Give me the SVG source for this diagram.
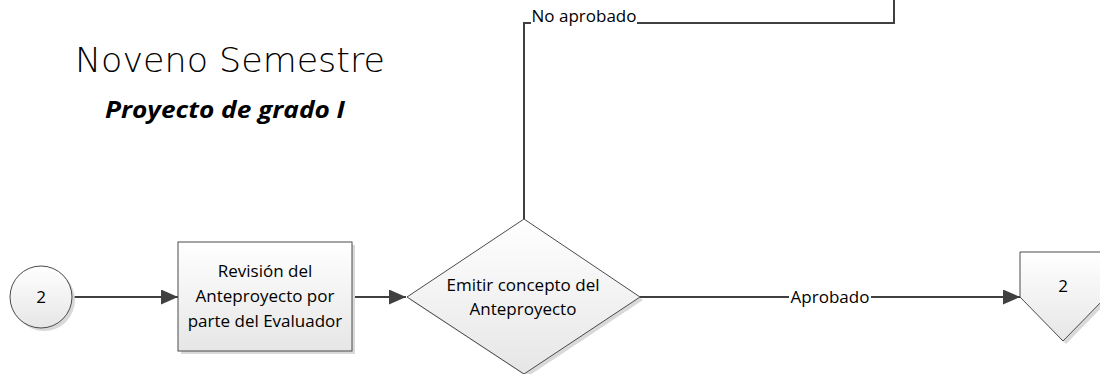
<svg xmlns="http://www.w3.org/2000/svg" width="1100" height="374" viewBox="0 0 1100 374">
<defs>
<linearGradient id="g" x1="0" y1="0" x2="0" y2="1">
<stop offset="0" stop-color="#ffffff"/>
<stop offset="1" stop-color="#e6e6e6"/>
</linearGradient>
<marker id="arr" markerWidth="17" markerHeight="15" refX="17" refY="7.5" orient="auto" markerUnits="userSpaceOnUse">
<path d="M0,0 L17,7.5 L0,15 Z" fill="#404040"/>
</marker>
</defs>
<style>
.shape{fill:url(#g);stroke:#4a4a4a;stroke-width:1}
.shadow{fill:#d9d9d9;stroke:none}
.lbl{font-family:"Open Sans","Liberation Sans",sans-serif;font-size:17px;fill:#000;text-anchor:middle}
.conn{fill:none;stroke:#404040;stroke-width:2}
</style>
<rect width="1100" height="374" fill="#ffffff"/>
<text x="230" y="72" font-family="DejaVu Sans ExtraLight, DejaVu Sans, sans-serif" font-weight="200" font-size="33" text-anchor="middle" textLength="310" lengthAdjust="spacingAndGlyphs">Noveno Semestre</text>
<text x="225" y="118" font-family="Open Sans, Liberation Sans, sans-serif" font-weight="bold" font-style="italic" font-size="23" text-anchor="middle" textLength="240" lengthAdjust="spacingAndGlyphs">Proyecto de grado I</text>
<g id="connectors">
<path class="conn" d="M72,297 L178,297" marker-end="url(#arr)"/>
<path class="conn" d="M352,297 L406,297" marker-end="url(#arr)"/>
<path class="conn" d="M524,219 L524,23 L531,23"/>
<path class="conn" d="M637,23 L894,23 L894,0"/>
<path class="conn" d="M640,297 L789,297"/>
<path class="conn" d="M871,297 L1020,297" marker-end="url(#arr)"/>
<text class="lbl" x="584" y="22">No aprobado</text>
<text class="lbl" x="830" y="303">Aprobado</text>
</g>
<g id="start">
<circle class="shadow" cx="44" cy="300" r="31"/>
<circle class="shape" cx="41" cy="297" r="31"/>
<text class="lbl" x="41" y="303">2</text>
</g>
<g id="revision">
<rect class="shadow" x="181" y="245" width="174" height="109"/>
<rect class="shape" x="178" y="242" width="174" height="109"/>
<text class="lbl" x="265" y="277">Revisión del</text>
<text class="lbl" x="265" y="302">Anteproyecto por</text>
<text class="lbl" x="265" y="327">parte del Evaluador</text>
</g>
<g id="decision">
<polygon class="shadow" points="527,222 643,300 527,377 410,300"/>
<polygon class="shape" points="524,219 640,297 524,374 407,297"/>
<text class="lbl" x="523" y="291">Emitir concepto del</text>
<text class="lbl" x="523" y="315">Anteproyecto</text>
</g>
<g id="offpage">
<polygon class="shadow" points="1023,255 1109,255 1109,300 1066,344 1023,300"/>
<polygon class="shape" points="1020,252 1106,252 1106,297 1063,341 1020,297"/>
<text class="lbl" x="1063" y="292">2</text>
</g>
</svg>
